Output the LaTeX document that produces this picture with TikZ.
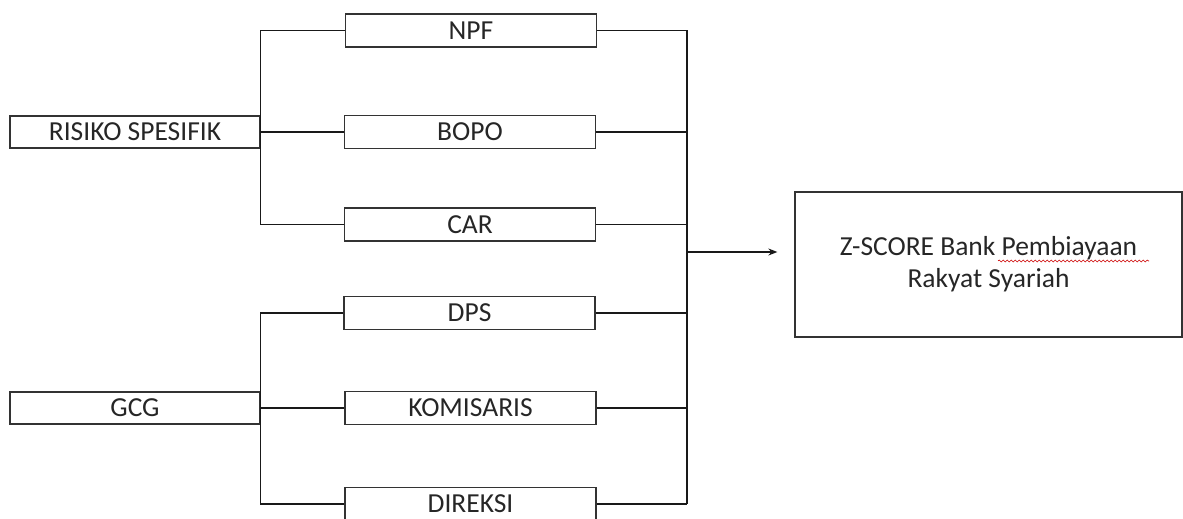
\documentclass[tikz,border=0pt]{standalone}
\usepackage{fontspec}
\setmainfont{Carlito}
\usetikzlibrary{positioning, calc, arrows.meta, decorations.pathmorphing}

\begin{document}
\begin{tikzpicture}[
    x=1pt, y=-1pt,
    every node/.style={font=\fontsize{27.5}{32}\selectfont, text=black!85},
    % Source box: left column
    srcbox/.style={rectangle, draw=black!80, line width=1.3pt,
        minimum width=250pt, minimum height=32pt, inner sep=0pt},
    % Variable box: middle column
    varbox/.style={rectangle, draw=black!80, line width=1.3pt,
        minimum width=251pt, minimum height=33pt, inner sep=0pt},
    % Target box
    tgtbox/.style={rectangle, draw=black!80, line width=1.3pt,
        minimum width=387pt, minimum height=145pt, align=center},
    % Edge style
    edge/.style={line width=1.3pt, black!90},
    % Arrow into the target
    outarrow/.style={line width=1.3pt, black!90, -{Stealth[length=9pt, width=7pt]}, shorten >=17pt},
]
\useasboundingbox (0,0) rectangle (1183,519);

% ====================================================
% LEFT COLUMN
% ====================================================
\node[srcbox] (S-risiko) at (135, 132) {RISIKO SPESIFIK};
\node[srcbox] (S-gcg) at (135, 408) {GCG};

% ====================================================
% MIDDLE COLUMN
% ====================================================
\node[varbox] (V-npf) at (471, 30.5) {NPF};
\node[varbox] (V-bopo) at (470, 132) {BOPO};
\node[varbox] (V-car) at (470, 224.5) {CAR};
\node[varbox] (V-dps) at (469.5, 313) {DPS};
\node[varbox] (V-kom) at (470.5, 408) {KOMISARIS};
\node[varbox] (V-dir) at (470.5, 504) {DIREKSI};

% ====================================================
% TARGET
% ====================================================
\node[tgtbox] (T-z) at (988.5, 264.5) {Z-SCORE Bank Pembiayaan\\Rakyat Syariah};

% Bus points on the right
\coordinate (J-top) at (687, 30.5);
\coordinate (J-mid) at (687, 252);
\coordinate (J-bot) at (687, 504);

% Edges: left sides
\draw[edge] (V-npf.west) -| (S-risiko.east);
\draw[edge] (S-risiko.east) -- (V-bopo.west);
\draw[edge] (V-car.west) -| (S-risiko.east);
\draw[edge] (V-dps.west) -| (S-gcg.east);
\draw[edge] (S-gcg.east) -- (V-kom.west);
\draw[edge] (V-dir.west) -| (S-gcg.east);

% Edges: right sides into the bus
\draw[edge] (V-npf.east) -- (J-top) -- (J-bot);
\draw[edge] (V-bopo.east) -- (V-bopo.east -| J-top);
\draw[edge] (V-car.east) -- (V-car.east -| J-top);
\draw[edge] (V-dps.east) -- (V-dps.east -| J-top);
\draw[edge] (V-kom.east) -- (V-kom.east -| J-top);
\draw[edge] (V-dir.east) -- (J-bot);

% Arrow to the target
\draw[outarrow] (J-mid) -- (J-mid -| T-z.west);

% Spelling mark under the word
\draw[red!80!black, line width=0.6pt, decorate,
    decoration={snake, amplitude=1pt, segment length=4pt}] (998, 261) -- (1149, 261);

\end{tikzpicture}
\end{document}
